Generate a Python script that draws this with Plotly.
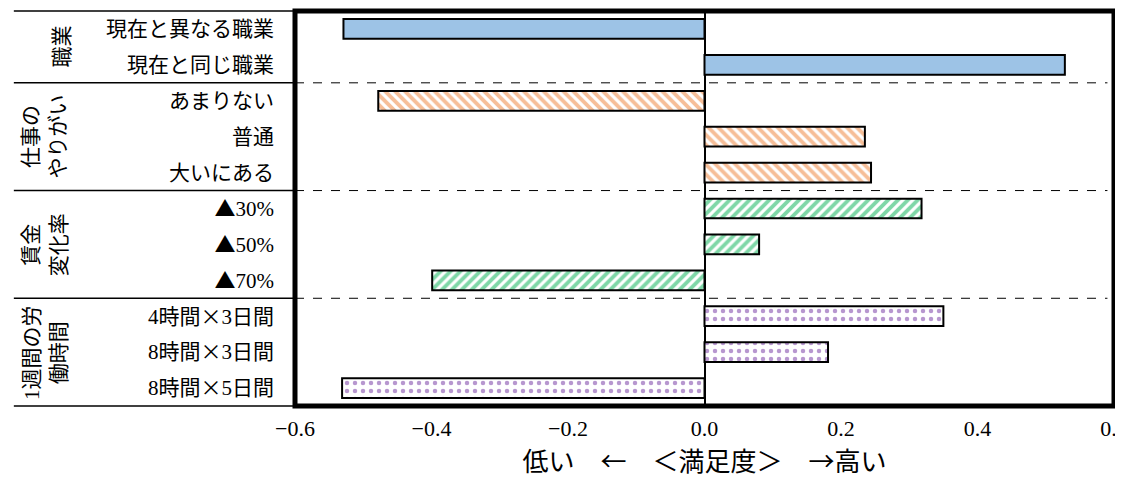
import plotly.graph_objects as go

# ---- data ----
cat_job = ["現在と異なる職業", "現在と同じ職業"]
val_job = [-0.529, 0.528]
cat_work = ["あまりない", "普通", "大いにある"]
val_work = [-0.478, 0.235, 0.244]
cat_wage = ["▲30%", "▲50%", "▲70%"]
val_wage = [0.318, 0.080, -0.399]
cat_hours = ["4時間×3日間", "8時間×3日間", "8時間×5日間"]
val_hours = [0.350, 0.181, -0.531]

group_labels = ["職業", "仕事の<br>やりがい", "賃金<br>変化率", "1週間の労<br>働時間"]
x_ticks = [-0.6, -0.4, -0.2, 0.0, 0.2, 0.4, 0.6]
x_title = "低い　←　＜満足度＞　→高い"

all_cats = cat_job + cat_work + cat_wage + cat_hours

FONT = "Liberation Serif, Noto Sans CJK JP, serif"
CJK = "Noto Sans CJK JP"


def tick_html(s):
    out = ""
    for ch in s:
        if ch in "▲×":
            out += f"<span style='font-family:{CJK}'>{ch}</span>"
        else:
            out += ch
    return out


fig = go.Figure()
line = dict(color="black", width=2)
fig.add_trace(go.Bar(y=cat_job, x=val_job, orientation="h", width=0.55,
                     marker=dict(color="#9DC3E6", line=line)))
fig.add_trace(go.Bar(y=cat_work, x=val_work, orientation="h", width=0.55,
                     marker=dict(color="white", line=line,
                                 pattern=dict(shape="\\", fgcolor="#ED7D31", bgcolor="white",
                                              size=7, solidity=0.55))))
fig.add_trace(go.Bar(y=cat_wage, x=val_wage, orientation="h", width=0.55,
                     marker=dict(color="white", line=line,
                                 pattern=dict(shape="/", fgcolor="#00B050", bgcolor="white",
                                              size=7, solidity=0.55))))
fig.add_trace(go.Bar(y=cat_hours, x=val_hours, orientation="h", width=0.55,
                     marker=dict(color="white", line=line,
                                 pattern=dict(shape=".", fgcolor="#7030A0", bgcolor="white",
                                              size=8, solidity=0.25))))

xl = -0.3433  # left edge of label table (paper)
shapes = []
sep_y = [1.5, 4.5, 7.5]
for yy in sep_y:
    shapes.append(dict(type="line", xref="paper", yref="y", x0=xl, x1=0, y0=yy, y1=yy,
                       line=dict(color="black", width=1.5)))
    shapes.append(dict(type="line", xref="paper", yref="y", x0=0, x1=0.992, y0=yy, y1=yy,
                       line=dict(color="black", width=1, dash="dash")))
for yy in [0, 1]:
    shapes.append(dict(type="line", xref="paper", yref="paper", x0=xl, x1=0, y0=yy, y1=yy,
                       line=dict(color="black", width=1.5)))
shapes.append(dict(type="rect", xref="paper", yref="paper", x0=0, x1=1, y0=0, y1=1,
                   line=dict(color="black", width=5)))

group_centers = [0.5, 3, 6, 9]
group_x = [-0.285, -0.3055, -0.3055, -0.3055]
annotations = []
for lab, yc, xc in zip(group_labels, group_centers, group_x):
    annotations.append(dict(text=lab, xref="paper", yref="y", x=xc, y=yc, showarrow=False,
                            xanchor="center", yanchor="middle",
                            textangle=-90, align="center",
                            font=dict(family=FONT, size=21, color="black")))

# the page body adds an 8px offset; size the figure so the plot lands where it should
fig.update_layout(
    width=1115, height=475,
    margin=dict(l=286.5, r=8.5, t=2.5, b=76.5, autoexpand=False),
    paper_bgcolor="white", plot_bgcolor="white",
    showlegend=False, barmode="overlay",
    font=dict(family=FONT, size=21, color="black"),
    shapes=shapes, annotations=annotations,
    xaxis=dict(range=[-0.6, 0.6], tickvals=x_ticks, tickformat=".1f",
               showgrid=False, zeroline=True, zerolinecolor="black", zerolinewidth=2,
               showline=False, ticks="", ticklabelstandoff=7, automargin=False,
               ticklabeloverflow="allow",
               tickfont=dict(family=FONT, size=22),
               title=dict(text=x_title, font=dict(family=CJK, size=26), standoff=12)),
    yaxis=dict(categoryorder="array", categoryarray=all_cats, autorange="reversed",
               tickmode="array", tickvals=all_cats, ticktext=[tick_html(c) for c in all_cats],
               showgrid=False, showline=False, ticks="", ticklabelstandoff=20, automargin=False,
               tickfont=dict(family=FONT, size=21)),
)

fig.write_html("out.html")
